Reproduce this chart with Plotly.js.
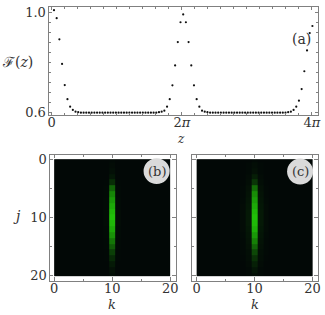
<!DOCTYPE html>
<html><head><meta charset="utf-8">
<script src="https://cdn.plot.ly/plotly-3.0.1.min.js"></script>
<style>html,body{margin:0;padding:0;background:#fff}#c{width:325px;height:315px}</style></head>
<body><div id="c"></div>
<script>
var fidelity = [1.008,0.976,0.892,0.794,0.710,0.654,0.624,0.611,0.604,0.602,
0.600,0.600,0.600,0.600,0.600,0.600,0.600,0.600,0.600,0.600,0.600,0.600,0.600,0.600,0.600,0.600,0.600,0.600,0.600,0.600,0.600,0.600,0.600,0.600,0.600,0.600,0.600,0.600,0.600,
0.602,0.604,0.608,0.624,0.654,0.709,0.788,0.881,0.960,0.991,0.960,0.881,0.788,0.709,0.654,0.624,0.608,0.604,0.602,
0.600,0.600,0.600,0.600,0.600,0.600,0.600,0.600,0.600,0.600,0.600,0.600,0.600,0.600,0.600,0.600,0.600,0.600,0.600,0.600,0.600,0.600,0.600,0.600,0.600,0.600,0.600,0.600,0.600,
0.602,0.604,0.611,0.624,0.648,0.694,0.765,0.848,0.917,0.945];
var zStep = 0.13;
var zFirst = 0.11;
var zSamples = fidelity.map(function(_, i){ return zFirst + i*zStep; });
var edges = [0,0.5,1.5,2.5,3.5,4.5,5.5,6.5,7.5,8.5,9.5,10.5,11.5,12.5,13.5,14.5,15.5,16.5,17.5,18.5,19.5,20];
var centerB = [.01,.02,.04,.08,.2,.5,.68,.78,.87,.95,1,.95,.87,.75,.6,.45,.3,.18,.1,.05,.03];
var sideB   = [0,0,0,0,.005,.01,.01,.015,.015,.02,.02,.02,.015,.015,.01,.01,.005,.005,0,0,0];
var centerC = [.01,.03,.05,.12,.25,.55,.72,.8,.88,.95,1,.97,.9,.78,.65,.5,.35,.22,.13,.07,.03];
var sideC   = [0,.01,.01,.02,.03,.05,.06,.07,.08,.09,.09,.09,.08,.07,.06,.05,.04,.03,.02,.01,.01];
var outerC  = [0,0,0,0,.005,.01,.01,.015,.02,.02,.02,.02,.02,.015,.01,.01,.01,.005,0,0,0];
var piTicks = [0, 6.2832, 12.5664];
var piLabels = ['0','2<i>π</i>','4<i>π</i>'];
var fTicks = [0.6, 1.0];
var fLabels = ['0.6','1.0'];
var gridTicks = [0,10,20];

function grid(center, side, outer){
  return center.map(function(c, r){
    var row = [];
    for (var k=0;k<21;k++){
      var d = Math.abs(k-10);
      row.push(d===0 ? c : d===1 ? side[r] : d===2 && outer ? outer[r] : 0);
    }
    return row;
  });
}
var scale = [[0,'#020806'],[1,'#20c008']];
var fam = 'DejaVu Serif';
var txt = '#333333', line = '#808080';
function hm(z, xa, ya){
  return {type:'heatmap', x:edges, y:edges, z:z, xaxis:xa, yaxis:ya, colorscale:scale, zmin:0, zmax:1, showscale:false, zsmooth:false, hoverinfo:'skip'};
}
var data = [
  {type:'scatter', mode:'markers', x:zSamples, y:fidelity, xaxis:'x', yaxis:'y', marker:{size:2.2, color:'#111'}, hoverinfo:'skip', cliponaxis:false},
  hm(grid(centerB, sideB), 'x2', 'y2'),
  hm(grid(centerC, sideC, outerC), 'x3', 'y3')
];
function ax(o){
  return Object.assign({showgrid:false, zeroline:false, showline:true, linecolor:line, linewidth:1, mirror:'ticks',
    ticks:'inside', ticklen:3.5, tickcolor:line, tickwidth:1, tickfont:{family:fam,size:13,color:txt}, tickmode:'array'}, o);
}
var W=325,H=315;
function dom(a,b){return [a/W,b/W];}
function domY(a,b){return [1-b/H,1-a/H];}
function note(px,py,t,s){
  return {xref:'paper',yref:'paper',x:px/W,y:1-py/H,xanchor:'center',yanchor:'middle',text:t,showarrow:false,font:{family:fam,size:s,color:txt}};
}
var minorTick = {ticks:'inside',ticklen:2,tickcolor:line,tickwidth:1,showgrid:false};
var layout = {
  width:W, height:H, margin:{l:0,r:0,t:0,b:0}, paper_bgcolor:'#fff', plot_bgcolor:'#fff', showlegend:false,
  font:{family:fam},
  xaxis: ax({domain:dom(48.5,318), anchor:'y', range:[-0.155,12.86], tickvals:piTicks, ticktext:piLabels, ticklabelstandoff:-5,
    minor:Object.assign({dtick:0.6283,tick0:0},minorTick)}),
  yaxis: ax({domain:domY(6.5,115), anchor:'x', range:[0.5909,1.0226], tickvals:fTicks, ticktext:fLabels, ticklabelstandoff:-1,
    minor:Object.assign({dtick:0.04,tick0:0.6},minorTick)}),
  xaxis2: ax({domain:dom(49.5,175.5), anchor:'y2', range:[-0.8,20.9], tickvals:gridTicks, ticklabelstandoff:-4,
    minor:Object.assign({dtick:5,tick0:0},minorTick)}),
  yaxis2: ax({domain:domY(154.5,280.5), anchor:'x2', range:[20.8,-0.8], tickvals:gridTicks, ticklabelstandoff:-1,
    minor:Object.assign({dtick:5,tick0:0},minorTick)}),
  xaxis3: ax({domain:dom(192,317.5), anchor:'y3', range:[-0.8,20.85], tickvals:gridTicks, ticklabelstandoff:-4,
    minor:Object.assign({dtick:5,tick0:0},minorTick)}),
  yaxis3: ax({domain:domY(154.5,280.5), anchor:'x3', range:[20.8,-0.8], tickvals:gridTicks, showticklabels:false,
    minor:Object.assign({dtick:5,tick0:0},minorTick)}),
  shapes:[
    {type:'circle',xref:'x2',yref:'y2',x0:15.4,x1:19.9,y0:-0.17,y1:4.27,fillcolor:'#dadada',line:{width:0},layer:'above'},
    {type:'circle',xref:'x3',yref:'y3',x0:15.6,x1:20.1,y0:-0.1,y1:4.35,fillcolor:'#dadada',line:{width:0},layer:'above'}
  ],
  annotations:[
    note(17,62,'ℱ(<i>z</i>)',14),
    note(301,39,'(a)',14),
    note(181,139,'<i>z</i>',12),
    note(17,216,'<i>j</i>',14),
    note(112,304,'<i>k</i>',13),
    note(255,304,'<i>k</i>',13),
    {xref:'x2',yref:'y2',x:17.65,y:2.05,xanchor:'center',yanchor:'middle',text:'(b)',showarrow:false,font:{family:fam,size:13,color:txt}},
    {xref:'x3',yref:'y3',x:17.85,y:2.12,xanchor:'center',yanchor:'middle',text:'(c)',showarrow:false,font:{family:fam,size:13,color:txt}}
  ]
};
Plotly.newPlot('c', data, layout, {displayModeBar:false, staticPlot:true});
</script></body></html>
